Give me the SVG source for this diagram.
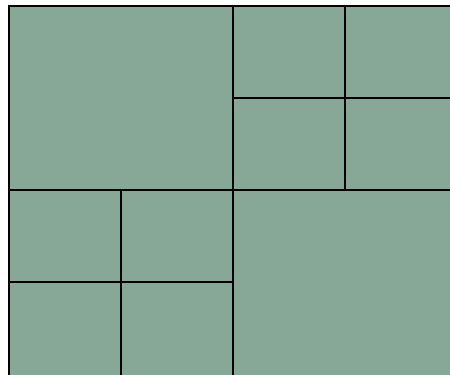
<svg xmlns="http://www.w3.org/2000/svg" width="450" height="375" viewBox="0 0 450 375">
<style>
.c{fill:#87a896;stroke:#000;stroke-width:2}
</style>
<rect x="0" y="0" width="450" height="375" fill="#fff"/>
<g id="q-tl"><rect class="c" x="9" y="6" width="224" height="184"/></g>
<g id="q-tr-1"><rect class="c" x="233" y="6" width="112" height="92"/></g>
<g id="q-tr-2"><rect class="c" x="345" y="6" width="112" height="92"/></g>
<g id="q-tr-3"><rect class="c" x="233" y="98" width="112" height="92"/></g>
<g id="q-tr-4"><rect class="c" x="345" y="98" width="112" height="92"/></g>
<g id="q-bl-1"><rect class="c" x="9" y="190" width="112" height="92"/></g>
<g id="q-bl-2"><rect class="c" x="121" y="190" width="112" height="92"/></g>
<g id="q-bl-3"><rect class="c" x="9" y="282" width="112" height="96"/></g>
<g id="q-bl-4"><rect class="c" x="121" y="282" width="112" height="96"/></g>
<g id="q-br"><rect class="c" x="233" y="190" width="224" height="188"/></g>
</svg>
